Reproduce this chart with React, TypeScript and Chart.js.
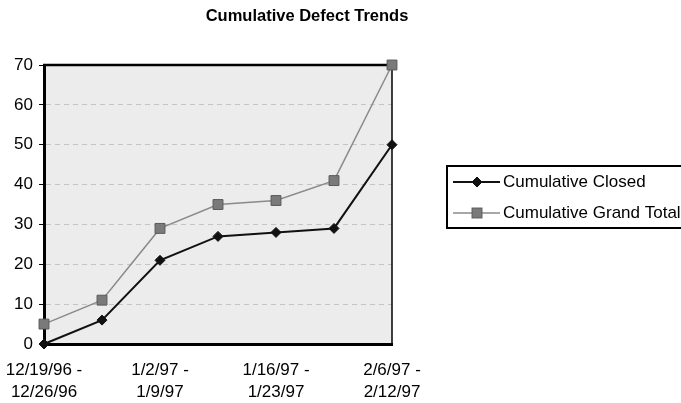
import React, { useEffect, useRef } from "react";
import { Chart, registerables } from "chart.js";

Chart.register(...registerables);

const TITLE = "Cumulative Defect Trends";
const periodStart = ["12/19/96", "12/26/96", "1/2/97", "1/9/97", "1/16/97", "1/23/97", "2/6/97"];
const periodEnd = ["12/26/96", "1/2/97", "1/9/97", "1/16/97", "1/23/97", "1/30/97", "2/12/97"];
const categories = periodStart.map((s, i) => `${s} - ${periodEnd[i]}`);
const cumulativeClosed = [0, 6, 21, 27, 28, 29, 50];
const cumulativeGrandTotal = [5, 11, 29, 35, 36, 41, 70];
const yTicks = [0, 10, 20, 30, 40, 50, 60, 70];

const FONT = "'Liberation Sans', Arial, sans-serif";

export default function App() {
  const ref = useRef<HTMLCanvasElement | null>(null);

  useEffect(() => {
    if (!ref.current) return;

    const framePlugin = {
      id: "frame",
      beforeDraw(chart: any) {
        const { ctx, chartArea: a } = chart;
        ctx.save();
        ctx.fillStyle = "#ececec";
        ctx.fillRect(a.left, a.top, a.right - a.left, a.bottom - a.top);
        ctx.restore();
      },
      beforeDatasetsDraw(chart: any) {
        const { ctx, chartArea: a } = chart;
        ctx.save();
        ctx.strokeStyle = "#000";
        ctx.lineWidth = 2.5;
        ctx.beginPath();
        ctx.moveTo(a.left - 1, a.top);
        ctx.lineTo(a.right, a.top);
        ctx.stroke();
        ctx.lineWidth = 1.5;
        ctx.beginPath();
        ctx.moveTo(a.right, a.top);
        ctx.lineTo(a.right, a.bottom + 1);
        ctx.stroke();
        ctx.restore();
      },
      afterDraw(chart: any) {
        const { ctx } = chart;
        ctx.save();
        // title
        ctx.fillStyle = "#000";
        ctx.font = `bold 16.5px ${FONT}`;
        ctx.textAlign = "center";
        ctx.textBaseline = "middle";
        ctx.fillText(TITLE, 307, 16);
        // legend box
        ctx.lineWidth = 2;
        ctx.strokeStyle = "#000";
        ctx.strokeRect(447, 166, 260, 62);
        const items = [
          { label: "Cumulative Closed", ds: chart.data.datasets[0], y: 182 },
          { label: "Cumulative Grand Total", ds: chart.data.datasets[1], y: 213 },
        ];
        items.forEach((it) => {
          const ds: any = it.ds;
          ctx.strokeStyle = ds.borderColor;
          ctx.lineWidth = ds.borderWidth;
          ctx.beginPath();
          ctx.moveTo(453, it.y);
          ctx.lineTo(500, it.y);
          ctx.stroke();
          ctx.fillStyle = ds.pointBackgroundColor;
          ctx.strokeStyle = ds.pointBorderColor;
          ctx.lineWidth = 1;
          if (ds.pointStyle === "rectRot") {
            const r = ds.pointRadius;
            ctx.beginPath();
            ctx.moveTo(477, it.y - r);
            ctx.lineTo(477 + r, it.y);
            ctx.lineTo(477, it.y + r);
            ctx.lineTo(477 - r, it.y);
            ctx.closePath();
            ctx.fill();
            ctx.stroke();
          } else {
            const s = ds.pointRadius * Math.SQRT1_2;
            ctx.fillRect(477 - s, it.y - s, 2 * s, 2 * s);
            ctx.strokeRect(477 - s, it.y - s, 2 * s, 2 * s);
          }
          ctx.fillStyle = "#000";
          ctx.font = `17px ${FONT}`;
          ctx.textAlign = "left";
          ctx.textBaseline = "middle";
          ctx.fillText(it.label, 503, it.y);
        });
        ctx.restore();
      },
    };

    const chart = new Chart(ref.current, {
      type: "line",
      data: {
        labels: categories,
        datasets: [
          {
            label: "Cumulative Closed",
            data: cumulativeClosed,
            borderColor: "#111",
            borderWidth: 2,
            pointStyle: "rectRot",
            pointRadius: 5,
            pointBackgroundColor: "#111",
            pointBorderColor: "#111",
            pointBorderWidth: 1,
            tension: 0,
            clip: false,
          },
          {
            label: "Cumulative Grand Total",
            data: cumulativeGrandTotal,
            borderColor: "#8a8a8a",
            borderWidth: 1.5,
            pointStyle: "rect",
            pointRadius: 7,
            pointBackgroundColor: "#7a7a7a",
            pointBorderColor: "#5a5a5a",
            pointBorderWidth: 1,
            tension: 0,
            clip: false,
          },
        ],
      },
      options: {
        responsive: false,
        animation: false,
        layout: { padding: { left: 0, top: 65, right: 289, bottom: 0 } },
        plugins: {
          legend: { display: false },
          title: { display: false },
          tooltip: { enabled: false },
        },
        scales: {
          x: {
            type: "category",
            offset: false,
            afterFit(scale: any) {
              scale.height = 59;
              scale.paddingLeft = 0;
              scale.paddingRight = 0;
            },
            grid: {
              display: false,
              drawOnChartArea: false,
              drawTicks: false,
            },
            border: { display: true, color: "#000", width: 3 },
            ticks: {
              autoSkip: false,
              maxRotation: 0,
              minRotation: 0,
              padding: 15,
              color: "#000",
              font: { family: FONT, size: 17, lineHeight: 1.3 },
              callback: (_v: any, i: number) =>
                i % 2 === 0 ? [`${periodStart[i]} -`, periodEnd[i]] : "",
            },
          },
          y: {
            min: 0,
            max: 70,
            afterFit(scale: any) {
              scale.width = 44;
              scale.paddingTop = 0;
              scale.paddingBottom = 0;
            },
            afterBuildTicks(scale: any) {
              scale.ticks = yTicks.map((v) => ({ value: v }));
            },
            grid: {
              color: (c: any) =>
                c.tick && (c.tick.value === 0 || c.tick.value === 70) ? "rgba(0,0,0,0)" : "#c4c4c4",
              tickColor: "#000",
              lineWidth: 1,
              tickLength: 5,
              tickBorderDash: [],
            },
            border: { display: true, color: "#000", width: 3, dash: [5, 4] },
            ticks: {
              padding: 6,
              color: "#000",
              font: { family: FONT, size: 17 },
            },
          },
        },
      } as any,
      plugins: [framePlugin],
    });

    return () => chart.destroy();
  }, []);

  return (
    <div style={{ position: "absolute", left: 0, top: 0, width: 681, height: 403, background: "#fff" }}>
      <canvas ref={ref} width={681} height={403} style={{ display: "block" }} />
    </div>
  );
}
